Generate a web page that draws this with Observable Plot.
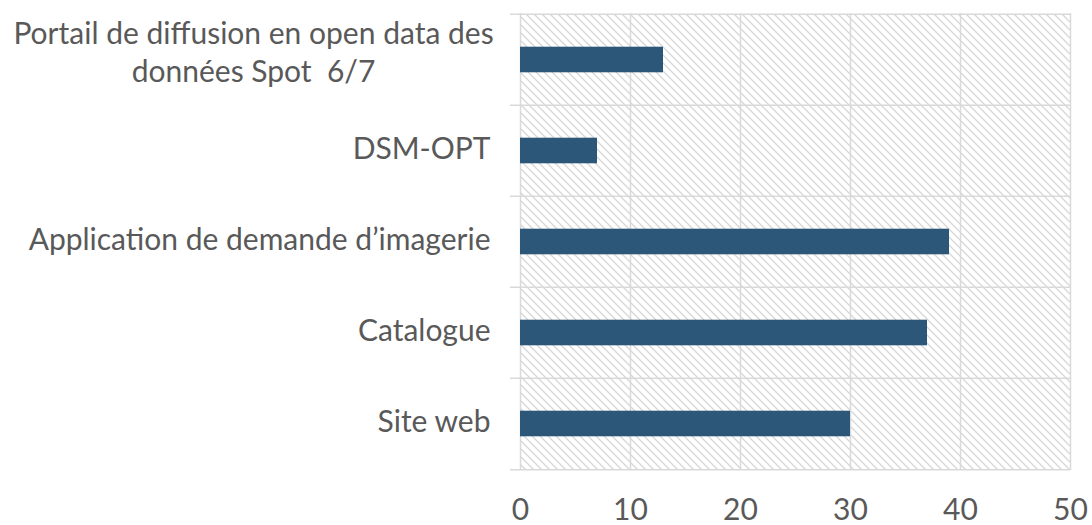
<!DOCTYPE html>
<html>
<head>
<meta charset="utf-8">
<script src="https://cdn.jsdelivr.net/npm/d3@7"></script>
<script src="https://cdn.jsdelivr.net/npm/@observablehq/plot@0.6"></script>
<style>
  html, body { margin: 0; padding: 0; background: #fff; }
  #chart svg { display: block; }
</style>
</head>
<body>
<div id="chart"></div>
<script>
const categories = [
  "Portail de diffusion en open data des\ndonnées Spot  6/7",
  "DSM-OPT",
  "Application de demande d\u2019imagerie",
  "Catalogue",
  "Site web"
];
const values = [13, 7, 39, 37, 30];
const xTicks = [0, 10, 20, 30, 40, 50];

const data = categories.map((c, i) => ({category: c, value: values[i]}));

const W = 1092, H = 525;
const mTop = 13, mBottom = 55, mLeft = 520, mRight = 22;
const step = (H - mTop - mBottom) / categories.length;
const barH = 26;
const inset = (step - barH) / 2;
const grid = "#d9d9d9";
const textColor = "#595959";
const fs = 30;

const chart = Plot.plot({
  width: W,
  height: H,
  marginTop: mTop,
  marginBottom: mBottom,
  marginLeft: mLeft,
  marginRight: mRight,
  style: {fontFamily: "Lato, 'Open Sans', sans-serif", fontSize: fs + "px", color: textColor, background: "#fff"},
  x: {domain: [0, 50], ticks: xTicks, label: null},
  y: {domain: categories, padding: 0, label: null},
  marks: [
    Plot.barX(data, {y: "category", x1: 0, x2: 50, fill: "url(#hatch)"}),
    Plot.ruleX(xTicks, {stroke: grid, strokeWidth: 1.5}),
    Plot.ruleY(categories, {y: d => d, dy: -step / 2, stroke: grid, strokeWidth: 1.5, insetLeft: -10}),
    Plot.ruleY(categories.slice(-1), {y: d => d, dy: step / 2, stroke: grid, strokeWidth: 1.5, insetLeft: -10}),
    Plot.barX(data, {y: "category", x: "value", fill: "#2c5778", insetTop: inset, insetBottom: inset}),
    Plot.axisX({ticks: xTicks, tickSize: 0, tickPadding: 28, fontSize: fs, fill: textColor}),
    Plot.axisY(categories.slice(1), {tickSize: 0, tickPadding: 30, dy: -2, fontSize: fs, fill: textColor}),
    Plot.axisY(categories.slice(0, 1), {tickSize: 0, tickPadding: 0, textAnchor: "middle", dx: -267, dy: -9, fontSize: fs, fill: textColor, lineHeight: 1.27})
  ]
});

const svg = d3.select(chart);
const defs = svg.insert("defs", ":first-child");
const pat = defs.append("pattern")
  .attr("id", "hatch")
  .attr("patternUnits", "userSpaceOnUse")
  .attr("width", 8)
  .attr("height", 8);
pat.append("path")
  .attr("d", "M-2,-2 L10,10 M-6,2 L2,10 M6,-2 L10,2")
  .attr("stroke", "#d6d6d6")
  .attr("stroke-width", 1.3)
  .attr("fill", "none");

document.getElementById("chart").appendChild(chart);
</script>
</body>
</html>
